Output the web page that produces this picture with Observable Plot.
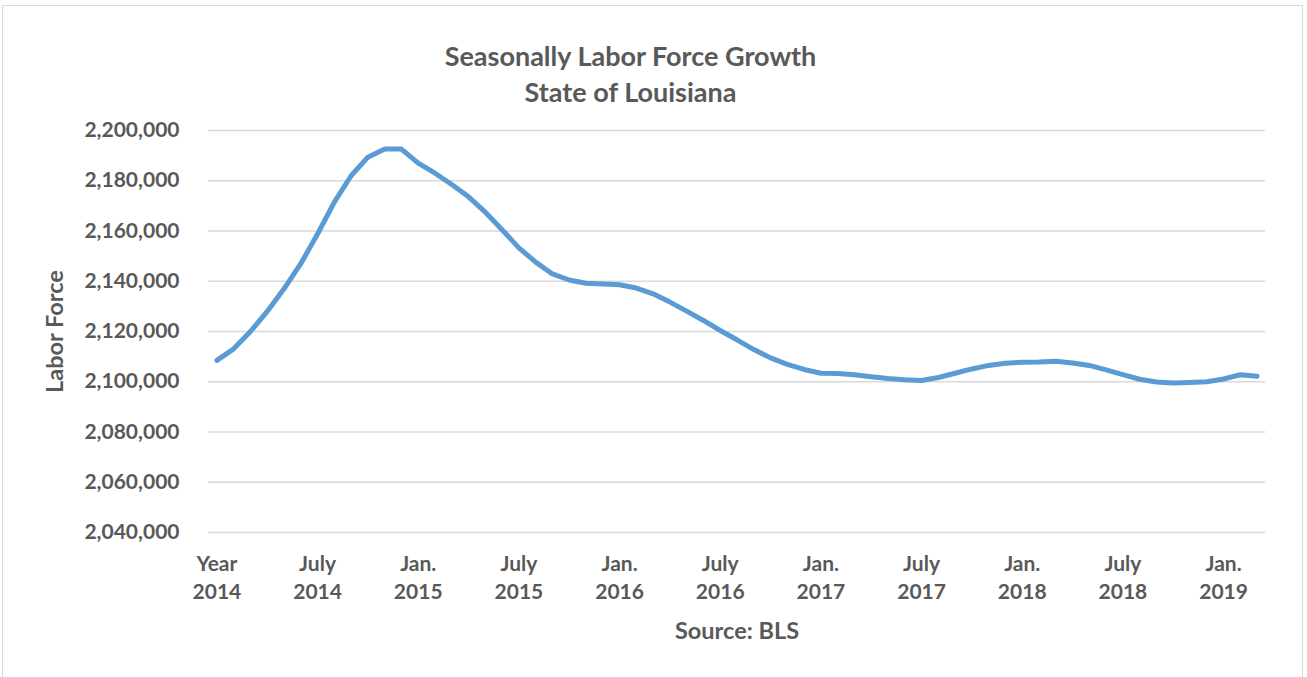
<!DOCTYPE html>
<html>
<head>
<meta charset="utf-8">
<script src="https://cdn.jsdelivr.net/npm/d3@7"></script>
<script src="https://cdn.jsdelivr.net/npm/@observablehq/plot@0.6"></script>
<style>
  html, body { margin: 0; padding: 0; background: #fff; width: 1307px; height: 677px; overflow: hidden; }
  #frame { position: absolute; left: 2px; top: 5px; width: 1301px; height: 700px; border: 1.5px solid #d9d9d9; box-sizing: border-box; }
  .title { position: absolute; left: 0; width: 1261px; text-align: center; font-family: Lato, sans-serif; font-weight: bold; font-size: 27px; color: #595959; line-height: 1; }
  #chart { position: absolute; left: 0; top: 110px; }
</style>
</head>
<body>
<div id="frame"></div>
<div class="title" style="top:42px">Seasonally Labor Force Growth</div>
<div class="title" style="top:78px">State of Louisiana</div>
<div id="chart"></div>
<script>
const months = [
  "2014-01","2014-02","2014-03","2014-04","2014-05","2014-06","2014-07","2014-08","2014-09","2014-10","2014-11","2014-12",
  "2015-01","2015-02","2015-03","2015-04","2015-05","2015-06","2015-07","2015-08","2015-09","2015-10","2015-11","2015-12",
  "2016-01","2016-02","2016-03","2016-04","2016-05","2016-06","2016-07","2016-08","2016-09","2016-10","2016-11","2016-12",
  "2017-01","2017-02","2017-03","2017-04","2017-05","2017-06","2017-07","2017-08","2017-09","2017-10","2017-11","2017-12",
  "2018-01","2018-02","2018-03","2018-04","2018-05","2018-06","2018-07","2018-08","2018-09","2018-10","2018-11","2018-12",
  "2019-01","2019-02","2019-03"
];
const laborForce = [
  2108500, 2113100, 2120000, 2128000, 2137000, 2147000, 2158800, 2171500, 2182000, 2189400, 2192600, 2192600,
  2187000, 2183000, 2178500, 2173600, 2167500, 2160500, 2153300, 2147600, 2142900, 2140500, 2139200, 2138900,
  2138600, 2137300, 2135000, 2131700, 2128100, 2124400, 2120400, 2116700, 2112800, 2109500, 2106900, 2104900,
  2103400, 2103300, 2102800, 2102000, 2101300, 2100800, 2100500, 2101700, 2103400, 2105100, 2106500, 2107400,
  2107800, 2107900, 2108200, 2107500, 2106500, 2104700, 2102800, 2101000, 2099900, 2099500, 2099700, 2100000,
  2101100, 2102800, 2102200
];
const tickMonths = ["2014-01","2014-07","2015-01","2015-07","2016-01","2016-07","2017-01","2017-07","2018-01","2018-07","2019-01"];
const tickLabels = ["Year\n2014","July\n2014","Jan.\n2015","July\n2015","Jan.\n2016","July\n2016","Jan.\n2017","July\n2017","Jan.\n2018","July\n2018","Jan.\n2019"];
const yTicks = [2040000, 2060000, 2080000, 2100000, 2120000, 2140000, 2160000, 2180000, 2200000];
const yTitle = "Labor Force";
const xTitle = "Source: BLS";

const data = months.map((m, i) => ({month: m, value: laborForce[i]}));
const labelOf = new Map(tickMonths.map((m, i) => [m, tickLabels[i]]));
const fmt = d3.format(",");

const chart = Plot.plot({
  width: 1307,
  height: 550,
  marginLeft: 208,
  marginRight: 42,
  marginTop: 20,
  marginBottom: 128,
  style: {fontFamily: "Lato, sans-serif", fontWeight: "bold", color: "#595959", background: "transparent"},
  x: {type: "point", domain: months, padding: 0.5},
  y: {domain: [2040000, 2200000]},
  marks: [
    Plot.gridY(yTicks, {stroke: "#d9d9d9", strokeOpacity: 1, strokeWidth: 1.5}),
    Plot.axisY(yTicks, {tickSize: 0, tickPadding: 29, fontSize: 21, fill: "#595959", tickFormat: d => fmt(d), label: null}),
    Plot.axisX(tickMonths, {tickSize: 0, tickPadding: 19, fontSize: 21, fill: "#595959", lineHeight: 1.33, tickFormat: d => labelOf.get(d), label: null}),
    Plot.lineY(data, {x: "month", y: "value", stroke: "#5B9BD5", strokeWidth: 5, strokeLinecap: "round", strokeLinejoin: "round"}),
    Plot.text([yTitle], {frameAnchor: "left", dx: -153, rotate: -90, fontSize: 23.5, fill: "#595959", textAnchor: "middle"}),
    Plot.text([xTitle], {frameAnchor: "bottom", dy: 106, fontSize: 23.5, fill: "#595959", textAnchor: "middle"})
  ]
});
document.getElementById("chart").appendChild(chart);
</script>
</body>
</html>
